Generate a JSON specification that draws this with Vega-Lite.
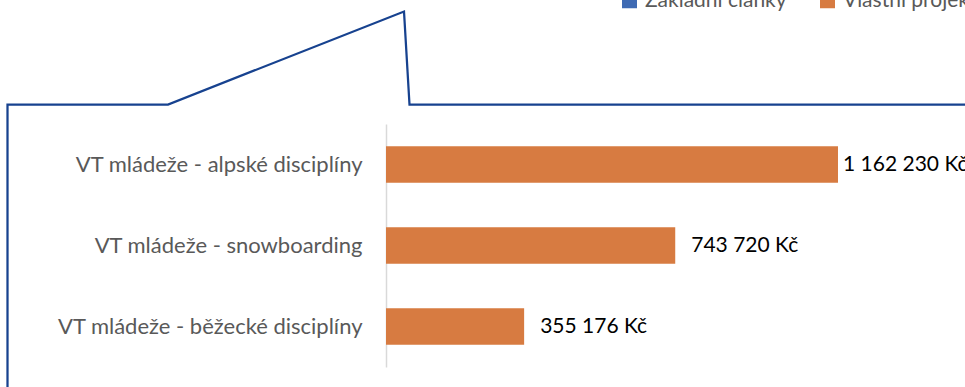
{
  "$schema": "https://vega.github.io/schema/vega-lite/v6.json",
  "autosize": {"type": "none"},
  "padding": {"left": 386, "top": 124, "right": 0, "bottom": 20},
  "width": 579,
  "height": 243,
  "background": "white",
  "config": {
    "view": {"stroke": null},
    "font": "Lato",
    "locale": {"number": {"decimal": ",", "thousands": " ", "grouping": [3], "currency": ["", " Kč"]}}
  },
  "datasets": {
    "bars": [
      {"kategorie": "VT mládeže - alpské disciplíny", "castka": 1162230, "serie": "Vlastní projekty"},
      {"kategorie": "VT mládeže - snowboarding", "castka": 743720, "serie": "Vlastní projekty"},
      {"kategorie": "VT mládeže - běžecké disciplíny", "castka": 355176, "serie": "Vlastní projekty"}
    ],
    "outline": [
      {"bod": 1, "sx": 7.5, "sy": 387},
      {"bod": 2, "sx": 7.5, "sy": 104.5},
      {"bod": 3, "sx": 168, "sy": 104.5},
      {"bod": 4, "sx": 404, "sy": 11.5},
      {"bod": 5, "sx": 409.5, "sy": 104.5},
      {"bod": 6, "sx": 965, "sy": 104.5}
    ]
  },
  "layer": [
    {
      "data": {"name": "outline"},
      "mark": {"type": "line", "color": "#17428F", "strokeWidth": 2.25, "interpolate": "linear"},
      "encoding": {
        "x": {"field": "sx", "type": "quantitative", "axis": null, "scale": {"domain": [0, 965], "range": [-386, 579], "nice": false, "zero": false}},
        "y": {"field": "sy", "type": "quantitative", "axis": null, "scale": {"domain": [0, 387], "range": [-124, 263], "nice": false, "zero": false}},
        "order": {"field": "bod", "type": "quantitative"}
      }
    },
    {
      "data": {"name": "bars"},
      "layer": [
        {
          "mark": {"type": "bar"},
          "encoding": {
            "color": {
              "field": "serie", "type": "nominal",
              "scale": {"domain": ["Základní články", "Vlastní projekty"], "range": ["#3E6AB3", "#D77B41"]},
              "legend": {
                "orient": "none", "direction": "horizontal", "legendX": 233, "legendY": -134,
                "title": null, "symbolType": "square", "symbolSize": 225, "symbolStrokeWidth": 0,
                "labelFontSize": 21, "labelColor": "#595959", "labelFont": "Lato", "labelLimit": 400,
                "labelOffset": 5, "columnPadding": 30, "padding": 0
              }
            }
          }
        },
        {
          "transform": [{"filter": "datum.castka > 1000000"}],
          "mark": {"type": "text", "align": "left", "baseline": "middle", "dx": 5, "fontSize": 21, "color": "#000000", "font": "Lato"},
          "encoding": {"text": {"field": "castka", "type": "quantitative", "format": "$,.0f"}}
        },
        {
          "transform": [{"filter": "datum.castka <= 1000000"}],
          "mark": {"type": "text", "align": "left", "baseline": "middle", "dx": 16, "fontSize": 21, "color": "#000000", "font": "Lato"},
          "encoding": {"text": {"field": "castka", "type": "quantitative", "format": "$,.0f"}}
        }
      ],
      "encoding": {
        "y": {
          "field": "kategorie", "type": "nominal", "sort": null, "title": null,
          "scale": {"paddingInner": 0.55, "paddingOuter": 0.275},
          "axis": {
            "ticks": false, "labelPadding": 24, "labelFontSize": 22, "labelColor": "#595959", "labelFont": "Lato",
            "labelLimit": 400, "domainColor": "#D9D9D9", "domainWidth": 1.5, "grid": false
          }
        },
        "x": {
          "field": "castka", "type": "quantitative", "axis": null,
          "scale": {"domain": [0, 1488800], "nice": false, "zero": true}
        }
      }
    }
  ],
  "resolve": {"scale": {"x": "independent", "y": "independent"}}
}
